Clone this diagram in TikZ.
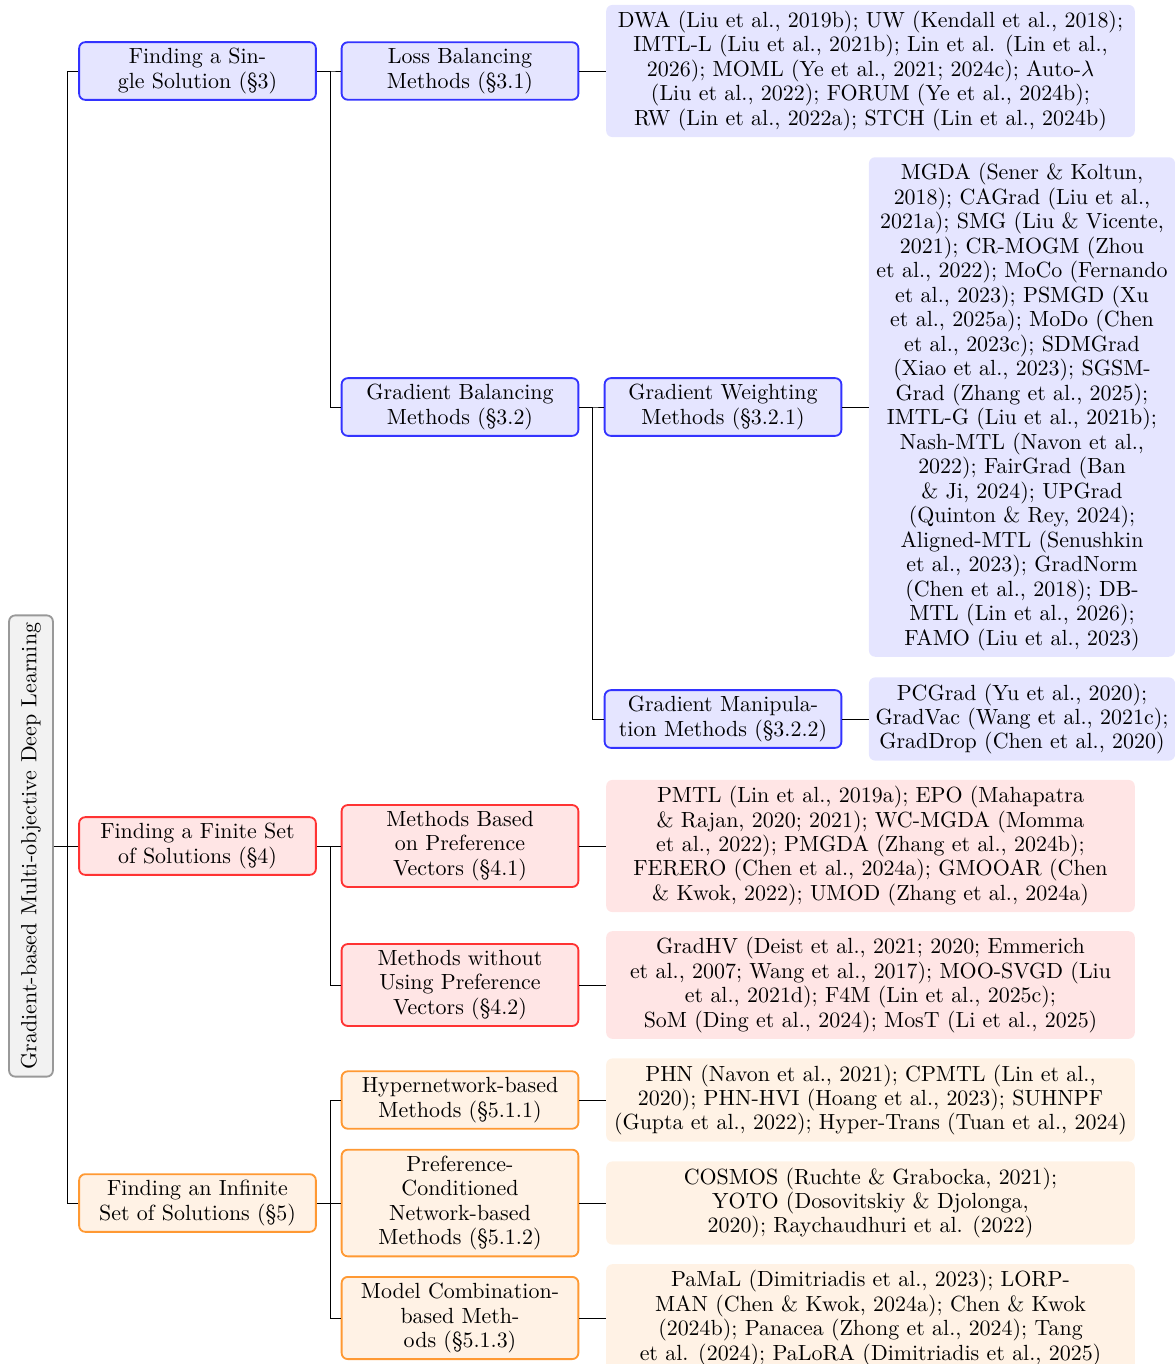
\documentclass[tikz,border=0pt]{standalone}
\begin{document}
\begin{tikzpicture}[x=0.49pt,y=-0.49pt,
		every node/.style={font=\fontsize{10.75pt}{12pt}\selectfont},
		box/.style={draw,rounded corners=3pt,line width=0.9pt,align=center,minimum width=116pt,inner sep=3pt},
		leaf/.style={rounded corners=3pt,align=center,inner sep=3pt},
		single/.style={box,draw=blue!80,fill=blue!10},
		finite/.style={box,draw=red!80,fill=red!10},
		infinite/.style={box,draw=orange!80,fill=orange!10}]
		\useasboundingbox (0,0) rectangle (1174,1364);
		\node[draw=gray!80,fill=gray!10,rounded corners=3pt,line width=0.9pt,rotate=90,minimum width=226pt,minimum height=21.5pt] (root) at (31,846) {Gradient-based Multi-objective Deep Learning};
		% finding a single solution
		\node[single] (single) at (197.5,71) {Finding a Sin-\\gle Solution (\S3)};
		\node[single] (loss) at (460,71) {Loss Balancing\\Methods (\S3.1)};
		\node[single] (grad) at (460,407) {Gradient Balancing\\Methods (\S3.2)};
		\node[single] (weight) at (723,407) {Gradient Weighting\\Methods (\S3.2.1)};
		\node[single] (manip) at (723,719) {Gradient Manipula-\\tion Methods (\S3.2.2)};
		\node[leaf,fill=blue!10,minimum width=259pt] (lossleaf) at (870.5,71) {DWA (Liu et al., 2019b); UW (Kendall et al., 2018);\\IMTL-L (Liu et al., 2021b); Lin et al. (Lin et al.,\\2026); MOML (Ye et al., 2021; 2024c); Auto-$\lambda$\\(Liu et al., 2022); FORUM (Ye et al., 2024b);\\RW (Lin et al., 2022a); STCH (Lin et al., 2024b)};
		\node[leaf,fill=blue!10,minimum width=150pt] (weightleaf) at (1022,407) {MGDA (Sener \& Koltun,\\2018); CAGrad (Liu et al.,\\2021a); SMG (Liu \& Vicente,\\2021); CR-MOGM (Zhou\\et al., 2022); MoCo (Fernando\\et al., 2023); PSMGD (Xu\\et al., 2025a); MoDo (Chen\\et al., 2023c); SDMGrad\\(Xiao et al., 2023); SGSM-\\Grad (Zhang et al., 2025);\\IMTL-G (Liu et al., 2021b);\\Nash-MTL (Navon et al.,\\2022); FairGrad (Ban\\\& Ji, 2024); UPGrad\\(Quinton \& Rey, 2024);\\Aligned-MTL (Senushkin\\et al., 2023); GradNorm\\(Chen et al., 2018); DB-\\MTL (Lin et al., 2026);\\FAMO (Liu et al., 2023)};
		\node[leaf,fill=blue!10,minimum width=150pt] (manipleaf) at (1022,719) {PCGrad (Yu et al., 2020);\\GradVac (Wang et al., 2021c);\\GradDrop (Chen et al., 2020)};
		% finding a finite set
		\node[finite] (finite) at (197.5,846) {Finding a Finite Set\\of Solutions (\S4)};
		\node[finite] (pref) at (460,846) {Methods Based\\on Preference\\Vectors (\S4.1)};
		\node[finite] (nopref) at (460,985) {Methods without\\Using Preference\\Vectors (\S4.2)};
		\node[leaf,fill=red!10,minimum width=259pt] (prefleaf) at (870.5,846) {PMTL (Lin et al., 2019a); EPO (Mahapatra\\\& Rajan, 2020; 2021); WC-MGDA (Momma\\et al., 2022); PMGDA (Zhang et al., 2024b);\\FERERO (Chen et al., 2024a); GMOOAR (Chen\\\& Kwok, 2022); UMOD (Zhang et al., 2024a)};
		\node[leaf,fill=red!10,minimum width=259pt] (noprefleaf) at (870.5,985) {GradHV (Deist et al., 2021; 2020; Emmerich\\et al., 2007; Wang et al., 2017); MOO-SVGD (Liu\\et al., 2021d); F4M (Lin et al., 2025c);\\SoM (Ding et al., 2024); MosT (Li et al., 2025)};
		% finding an infinite set
		\node[infinite] (infinite) at (197.5,1203) {Finding an Infinite\\Set of Solutions (\S5)};
		\node[infinite] (hyper) at (460,1100) {Hypernetwork-based\\Methods (\S5.1.1)};
		\node[infinite] (cond) at (460,1203) {Preference-\\Conditioned\\Network-based\\Methods (\S5.1.2)};
		\node[infinite] (comb) at (460,1318) {Model Combination-\\based Meth-\\ods (\S5.1.3)};
		\node[leaf,fill=orange!10,minimum width=259pt] (hyperleaf) at (870.5,1100) {PHN (Navon et al., 2021); CPMTL (Lin et al.,\\2020); PHN-HVI (Hoang et al., 2023); SUHNPF\\(Gupta et al., 2022); Hyper-Trans (Tuan et al., 2024)};
		\node[leaf,fill=orange!10,minimum width=259pt] (condleaf) at (870.5,1203) {COSMOS (Ruchte \& Grabocka, 2021);\\YOTO (Dosovitskiy \& Djolonga,\\2020); Raychaudhuri et al. (2022)};
		\node[leaf,fill=orange!10,minimum width=259pt] (combleaf) at (870.5,1318) {PaMaL (Dimitriadis et al., 2023); LORP-\\MAN (Chen \& Kwok, 2024a); Chen \& Kwok\\(2024b); Panacea (Zhong et al., 2024); Tang\\et al. (2024); PaLoRA (Dimitriadis et al., 2025)};
		% connectors
		\foreach \c in {single,finite,infinite}
			\draw (root.south) -- ++(14,0) |- (\c.west);
		\foreach \p/\c in {single/loss,single/grad,grad/weight,grad/manip,finite/pref,finite/nopref,infinite/hyper,infinite/cond,infinite/comb}
			\draw (\p.east) -- ++(13.5,0) |- (\c.west);
		\foreach \p in {loss,weight,manip,pref,nopref,hyper,cond,comb}
			\draw (\p.east) -- (\p leaf.west);
	\end{tikzpicture}
\end{document}
